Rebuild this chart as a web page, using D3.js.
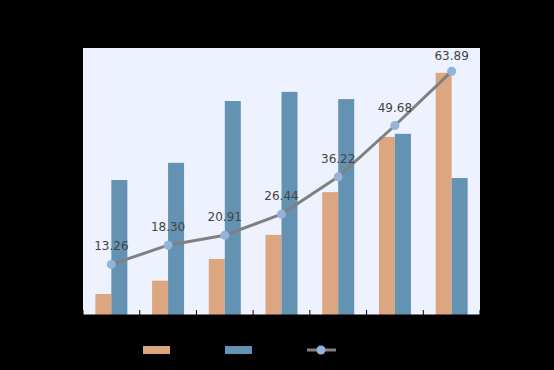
<!DOCTYPE html>
<html>
<head>
<meta charset="utf-8">
<script src="https://cdn.jsdelivr.net/npm/d3@7"></script>
<style>
  html, body { margin: 0; padding: 0; background: #000; }
  svg { display: block; }
</style>
</head>
<body>
<div id="chart"></div>
<script>
const CATEGORIES = ["1", "2", "3", "4", "5", "6", "7"];
const SERIES_A = [5.5, 9.0, 14.7, 21.0, 32.2, 46.7, 63.5];
const SERIES_B = [35.4, 39.9, 56.1, 58.5, 56.6, 47.5, 35.9];
const LINE_VALUES = [13.26, 18.30, 20.91, 26.44, 36.22, 49.68, 63.89];

const COLORS = { a: "#dca680", b: "#6492b2", line: "#808080", point: "#94b3d9" };

const W = 554, H = 370;
const MARGIN = { top: 48, right: 74, bottom: 55, left: 83 };

const svg = d3.select("#chart").append("svg")
  .attr("width", W)
  .attr("height", H)
  .style("background", "#000");

const innerW = W - MARGIN.left - MARGIN.right;
const innerH = H - MARGIN.top - MARGIN.bottom;

const g = svg.append("g")
  .attr("transform", `translate(${MARGIN.left},${MARGIN.top})`);

g.append("rect")
  .attr("width", innerW)
  .attr("height", innerH)
  .attr("fill", "#eef2fe");

const x = d3.scaleBand()
  .domain(CATEGORIES)
  .range([0, innerW])
  .padding(0);

const barW = 16;
const x1 = d3.scaleBand()
  .domain(["a", "b"])
  .range([0, barW * 2]);

const y = d3.scaleLinear()
  .domain([0, 70])
  .range([innerH, 0]);

// bars
const groups = g.selectAll(".cat")
  .data(CATEGORIES)
  .join("g")
  .attr("class", "cat")
  .attr("transform", d => `translate(${x(d) + x.bandwidth() / 2 - barW},0)`);

groups.append("rect")
  .attr("x", x1("a"))
  .attr("y", (d, i) => y(SERIES_A[i]))
  .attr("width", x1.bandwidth())
  .attr("height", (d, i) => innerH - y(SERIES_A[i]))
  .attr("fill", COLORS.a);

groups.append("rect")
  .attr("x", x1("b"))
  .attr("y", (d, i) => y(SERIES_B[i]))
  .attr("width", x1.bandwidth())
  .attr("height", (d, i) => innerH - y(SERIES_B[i]))
  .attr("fill", COLORS.b);

// x axis, ticks on band boundaries pointing up
const tickPos = CATEGORIES.map(c => x(c)).concat([innerW]);
g.append("line")
  .attr("x1", 0).attr("x2", innerW)
  .attr("y1", innerH).attr("y2", innerH)
  .attr("stroke", "#000");
g.selectAll(".xtick")
  .data(tickPos)
  .join("line")
  .attr("class", "xtick")
  .attr("x1", d => d).attr("x2", d => d)
  .attr("y1", innerH).attr("y2", innerH - 5)
  .attr("stroke", "#000")
  .attr("stroke-width", 1);

// line
const pts = LINE_VALUES.map((v, i) => [x(CATEGORIES[i]) + x.bandwidth() / 2, y(v)]);

g.append("path")
  .attr("d", d3.line()(pts))
  .attr("fill", "none")
  .attr("stroke", COLORS.line)
  .attr("stroke-width", 3)
  .attr("stroke-linejoin", "round");

g.selectAll(".pt")
  .data(pts)
  .join("circle")
  .attr("class", "pt")
  .attr("cx", d => d[0])
  .attr("cy", d => d[1])
  .attr("r", 4.5)
  .attr("fill", COLORS.point);

g.selectAll(".lbl")
  .data(LINE_VALUES)
  .join("text")
  .attr("class", "lbl")
  .attr("x", (d, i) => pts[i][0])
  .attr("y", (d, i) => Math.max(pts[i][1] - 14, 12))
  .attr("text-anchor", "middle")
  .attr("font-family", "'DejaVu Sans', sans-serif")
  .attr("font-size", "12px")
  .attr("fill", "#444")
  .text(d => d.toFixed(2));

// legend
const lg = svg.append("g").attr("transform", "translate(0,350)");
lg.append("rect")
  .attr("x", 143).attr("y", -4)
  .attr("width", 27).attr("height", 8)
  .attr("fill", COLORS.a);
lg.append("rect")
  .attr("x", 225).attr("y", -4)
  .attr("width", 27).attr("height", 8)
  .attr("fill", COLORS.b);
lg.append("line")
  .attr("x1", 307).attr("x2", 336)
  .attr("y1", 0).attr("y2", 0)
  .attr("stroke", COLORS.line)
  .attr("stroke-width", 3);
lg.append("circle")
  .attr("cx", 321).attr("cy", 0)
  .attr("r", 4.5)
  .attr("fill", COLORS.point);
</script>
</body>
</html>
